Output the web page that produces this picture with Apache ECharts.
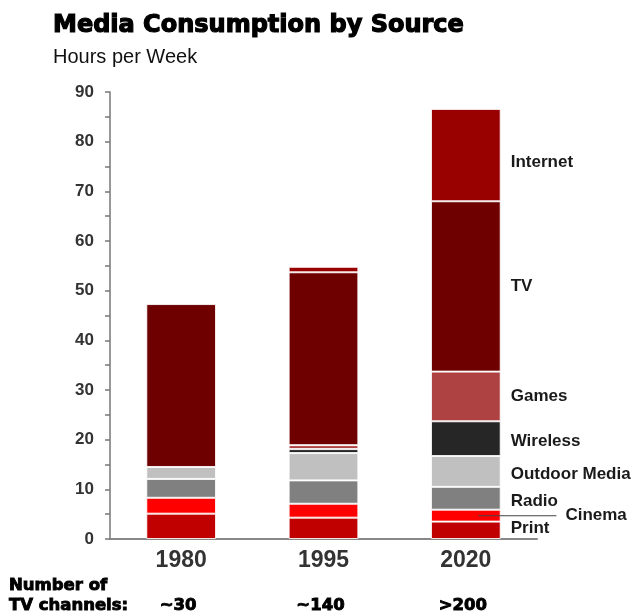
<!DOCTYPE html>
<html>
<head>
<meta charset="utf-8">
<script src="https://cdn.jsdelivr.net/npm/echarts@6/dist/echarts.min.js"></script>
<style>html,body{margin:0;padding:0;background:#fff}#c{width:634px;height:616px}</style>
</head>
<body>
<div id="c"></div>
<script>
// ---- data ----
var categories = ['1980', '1995', '2020'];
var tvChannels = ['~30', '~140', '>200'];
var seriesNames = ['Print', 'Cinema', 'Radio', 'Outdoor Media', 'Wireless', 'Games', 'TV', 'Internet'];
var printHours    = [5.1, 4.3, 3.5];
var cinemaHours   = [3.2, 2.8, 2.4];
var radioHours    = [3.8, 4.7, 4.6];
var outdoorHours  = [2.4, 5.5, 6.2];
var wirelessHours = [null, 0.8, 7.0];
var gamesHours    = [null, 0.8, 10.0];
var tvHours       = [32.8, 34.8, 34.3];
var internetHours = [null, 1.1, 18.6];
var yTicks = [0, 10, 20, 30, 40, 50, 60, 70, 80, 90];

// ---- styles ----
var colors = ['#C00000', '#FF0000', '#808080', '#C0C0C0', '#262626', '#AE4242', '#6E0000', '#990000'];
var labelOffsets = [[0, -2], null, [0, 3], [0, 3], [0, 3], [0, 0], [0, 0], [0, 7]];
var values = [printHours, cinemaHours, radioHours, outdoorHours, wirelessHours, gamesHours, tvHours, internetHours];
var labelFont = { fontFamily: 'Liberation Sans, Arial, sans-serif', fontWeight: 'bold', fontSize: 17, color: '#1a1a1a' };
var heavy = { textBorderColor: '#000', textBorderWidth: 0.9 };

var series = seriesNames.map(function (name, si) {
  var data = values[si].map(function (v, i) {
    if (i !== categories.length - 1 || v == null) return v;
    var lbl;
    if (name === 'Cinema') {
      lbl = {
        show: true, position: ['68%', '50%'], align: 'left', verticalAlign: 'middle',
        formatter: '{l|}{t|Cinema}',
        rich: {
          l: { width: 78, height: 1, backgroundColor: '#444', verticalAlign: 'middle' },
          t: Object.assign({ padding: [0, 0, 0, 9], lineHeight: 20 }, labelFont)
        }
      };
    } else {
      lbl = Object.assign({ show: true, position: 'right', distance: 10, formatter: name, offset: labelOffsets[si] || [0, 0] }, labelFont);
    }
    return { value: v, label: lbl };
  });
  return {
    name: name, type: 'bar', stack: 'total', barWidth: '49%',
    itemStyle: { color: colors[si], borderColor: 'rgba(255,255,255,0.85)', borderWidth: 1 },
    emphasis: { disabled: true },
    data: data
  };
});

var chart = echarts.init(document.getElementById('c'), null, { renderer: 'canvas' });
chart.setOption({
  animation: false,
  backgroundColor: '#fff',
  title: [
    { text: 'Media Consumption by Source', left: 53, top: 14, padding: 0,
      textStyle: Object.assign({ fontFamily: 'DejaVu Sans, sans-serif', fontWeight: 'bold', fontSize: 24, color: '#000', lineHeight: 24 }, { textBorderColor: '#000', textBorderWidth: 1.2 }) },
    { text: 'Hours per Week', left: 53, top: 47, padding: 0,
      textStyle: { fontFamily: 'Liberation Sans, Arial, sans-serif', fontWeight: 'normal', fontSize: 20, color: '#111', lineHeight: 20 } },
    { text: 'Number of\nTV channels:', left: 9, top: 576, padding: 0,
      textStyle: Object.assign({ fontFamily: 'DejaVu Sans, sans-serif', fontWeight: 'bold', fontSize: 16.5, color: '#000', lineHeight: 20 }, heavy) }
  ],
  grid: { left: 110, right: 97, top: 92, bottom: 77, containLabel: false },
  xAxis: {
    type: 'category', data: categories,
    axisLine: { show: true, lineStyle: { color: '#888', width: 2 } },
    axisTick: { show: false },
    axisLabel: {
      margin: 10,
      formatter: function (val, idx) { return '{y|' + val + '}\n{s| }\n{c|' + tvChannels[idx] + '}'; },
      rich: {
        y: { fontFamily: 'Liberation Sans Narrow, Liberation Sans, Arial, sans-serif', fontWeight: 'bold', fontSize: 23, lineHeight: 24, color: '#333' },
        s: { fontSize: 10, lineHeight: 23 },
        c: Object.assign({ fontFamily: 'DejaVu Sans, sans-serif', fontWeight: 'bold', fontSize: 16.5, lineHeight: 20, color: '#000', padding: [0, 6, 0, 0] }, heavy)
      }
    }
  },
  yAxis: {
    type: 'value', min: yTicks[0], max: yTicks[yTicks.length - 1], interval: yTicks[1] - yTicks[0],
    axisLine: { show: true, lineStyle: { color: '#777', width: 1.5 } },
    axisTick: { show: true, length: 5, lineStyle: { color: '#777', width: 1.5 } },
    minorTick: { show: true, splitNumber: 2, length: 5, lineStyle: { color: '#777', width: 1.5 } },
    splitLine: { show: false },
    axisLabel: { margin: 16, fontFamily: 'Liberation Sans, Arial, sans-serif', fontWeight: 'bold', fontSize: 17, color: '#333' }
  },
  series: series
});
</script>
</body>
</html>
